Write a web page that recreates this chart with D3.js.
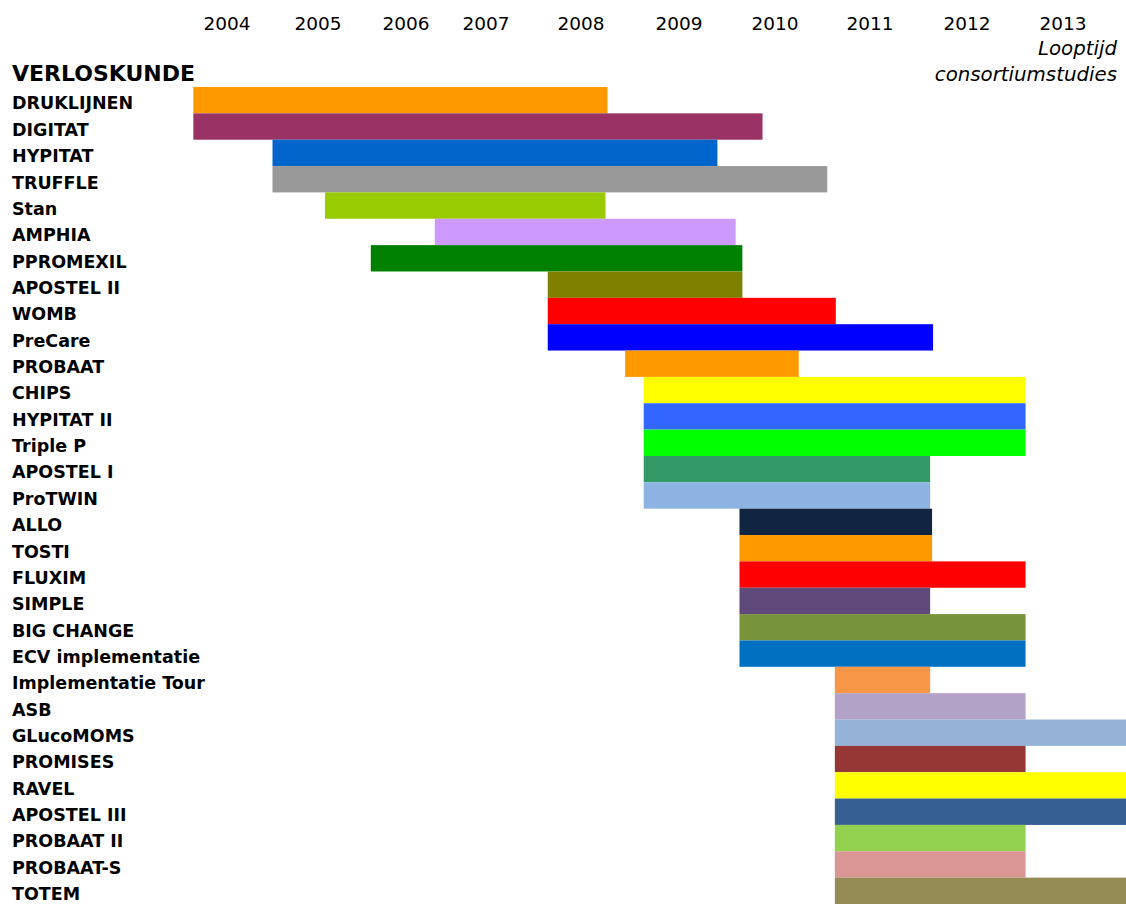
<!DOCTYPE html>
<html>
<head>
<meta charset="utf-8">
<script src="https://d3js.org/d3.v7.min.js"></script>
<style>
  body { margin: 0; background: #fff; }
  svg { display: block; }
  text { font-family: "DejaVu Sans", sans-serif; fill: #000; }
  .year { font-size: 18.5px; }
  .study { font-size: 17.5px; font-weight: bold; }
  .title { font-size: 22px; font-weight: bold; }
  .note { font-size: 19.8px; font-style: italic; }
</style>
</head>
<body>
<svg></svg>
<script>
'use strict';

// study names, top to bottom
var studies = ["DRUKLIJNEN", "DIGITAT", "HYPITAT", "TRUFFLE", "Stan", "AMPHIA",
  "PPROMEXIL", "APOSTEL II", "WOMB", "PreCare", "PROBAAT", "CHIPS", "HYPITAT II",
  "Triple P", "APOSTEL I", "ProTWIN", "ALLO", "TOSTI", "FLUXIM", "SIMPLE",
  "BIG CHANGE", "ECV implementatie", "Implementatie Tour", "ASB", "GLucoMOMS",
  "PROMISES", "RAVEL", "APOSTEL III", "PROBAAT II", "PROBAAT-S", "TOTEM"];

// start and end of each study (decimal years)
var starts = [2004.13, 2004.13, 2005.0, 2005.0, 2005.58, 2006.86,
  2006.1, 2008.15, 2008.15, 2008.15, 2008.95, 2009.14, 2009.14,
  2009.14, 2009.14, 2009.14, 2010.13, 2010.13, 2010.13, 2010.13,
  2010.13, 2010.13, 2011.13, 2011.13, 2011.13,
  2011.13, 2011.13, 2011.13, 2011.13, 2011.13, 2011.13];

var ends = [2008.77, 2010.37, 2009.9, 2011.05, 2008.75, 2010.09,
  2010.16, 2010.16, 2011.14, 2012.15, 2010.75, 2013.11, 2013.11,
  2013.11, 2012.12, 2012.12, 2012.14, 2012.14, 2013.11, 2012.12,
  2013.11, 2013.11, 2012.12, 2013.11, 2014.2,
  2013.11, 2014.2, 2014.2, 2013.11, 2013.11, 2014.2];

var colors = ["#FF9900", "#993366", "#0066CC", "#999999", "#99CC00", "#CC99FF",
  "#008000", "#808000", "#FF0000", "#0000FF", "#FF9900", "#FFFF00", "#3366FF",
  "#00FF00", "#339966", "#8DB3E2", "#112540", "#FF9900", "#FF0000", "#5F497A",
  "#77933C", "#0070C0", "#F79646", "#B2A2C7", "#95B3D7",
  "#953735", "#FFFF00", "#366092", "#92D050", "#D99694", "#948A54"];

// year labels along the top
var years = [2004, 2005, 2006, 2007, 2008, 2009, 2010, 2011, 2012, 2013];

var data = studies.map(function(d, i) {
  return {name: d, start: starts[i], end: ends[i], color: colors[i]};
});

var width = 1126,
    height = 904;

var svg = d3.select("svg")
  .attr("width", width)
  .attr("height", height);

// the year columns in the original are not evenly spaced,
// so the x scale is piecewise: each label sits mid-year
var x = d3.scaleLinear()
  .domain(years.map(function(d) { return d + 0.5; }))
  .range([227, 318, 406, 486, 581, 679, 775, 870, 967, 1063]);

var y = d3.scaleBand()
  .domain(studies)
  .range([87, 904])
  .padding(0);

// year labels
svg.selectAll(".year")
  .data(years)
  .enter()
  .append("text")
  .attr("class", "year")
  .attr("x", function(d) { return x(d + 0.5); })
  .attr("y", 30)
  .attr("text-anchor", "middle")
  .text(function(d) { return d; });

svg.append("text")
  .attr("class", "note")
  .attr("x", 1117)
  .attr("y", 55)
  .attr("text-anchor", "end")
  .text("Looptijd");

svg.append("text")
  .attr("class", "note")
  .attr("x", 1117)
  .attr("y", 81)
  .attr("text-anchor", "end")
  .text("consortiumstudies");

svg.append("text")
  .attr("class", "title")
  .attr("x", 12)
  .attr("y", 81)
  .text("VERLOSKUNDE");

// bars
svg.selectAll(".bar")
  .data(data)
  .enter()
  .append("rect")
  .attr("class", "bar")
  .attr("x", function(d) { return x(d.start); })
  .attr("y", function(d) { return y(d.name); })
  .attr("width", function(d) { return x(d.end) - x(d.start); })
  .attr("height", y.bandwidth())
  .attr("fill", function(d) { return d.color; });

// study labels
svg.selectAll(".study")
  .data(data)
  .enter()
  .append("text")
  .attr("class", "study")
  .attr("x", 12)
  .attr("y", function(d) { return y(d.name) + y.bandwidth() / 2 + 9.3; })
  .text(function(d) { return d.name; });
</script>
</body>
</html>
